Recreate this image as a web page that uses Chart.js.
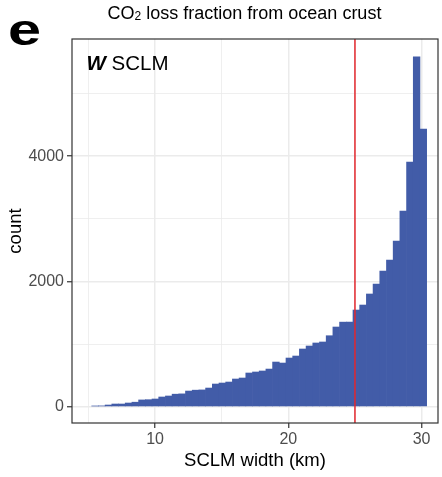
<!DOCTYPE html>
<html>
<head>
<meta charset="utf-8">
<script src="https://cdn.jsdelivr.net/npm/chart.js@4.4.1/dist/chart.umd.min.js"></script>
<style>
html,body{margin:0;padding:0;background:#ffffff;}
#wrap{position:relative;width:442px;height:477px;}
</style>
</head>
<body>
<div id="wrap"><canvas id="c" width="442" height="477"></canvas></div>
<script>
// ---- data ----
const binCenters = [5.501, 6.004, 6.506, 7.009, 7.511, 8.014, 8.517, 9.019, 9.522, 10.024,
  10.527, 11.030, 11.532, 12.035, 12.537, 13.040, 13.543, 14.045, 14.548, 15.050,
  15.553, 16.056, 16.558, 17.061, 17.563, 18.066, 18.569, 19.071, 19.574, 20.076,
  20.579, 21.082, 21.584, 22.087, 22.589, 23.092, 23.595, 24.097, 24.600, 25.102,
  25.605, 26.108, 26.610, 27.113, 27.615, 28.118, 28.621, 29.123, 29.626, 30.128];
const counts = [11, 13, 27, 43, 43, 59, 72, 108, 112, 123,
  155, 171, 200, 205, 250, 264, 268, 298, 362, 378,
  394, 442, 458, 538, 554, 570, 601, 713, 697, 777,
  809, 921, 969, 1017, 1033, 1133, 1272, 1350, 1352, 1543,
  1623, 1799, 1958, 2166, 2341, 2645, 3124, 3905, 5583, 4432];
const xGridValues = [5, 10, 15, 20, 25, 30];
const xTickLabels = [10, 20, 30];
const yGridValues = [0, 1000, 2000, 3000, 4000, 5000];
const yTickLabels = [0, 2000, 4000];
const refLineX = 25;
const titleMain = ['CO', '2', ' loss fraction from ocean crust'];
const panelTag = 'e';
const annBold = 'W';
const annText = ' SCLM';
const xTitle = 'SCLM width (km)';
const yTitle = 'count';

const FONT = '"Liberation Sans", Arial, Helvetica, sans-serif';

const decor = {
  id: 'decor',
  afterDatasetsDraw(chart) {
    const {ctx, chartArea: a, scales} = chart;
    const px = scales.x.getPixelForValue(refLineX);
    ctx.save();
    ctx.strokeStyle = '#E2272D';
    ctx.lineWidth = 1.5;
    ctx.beginPath();
    ctx.moveTo(px, a.top);
    ctx.lineTo(px, a.bottom);
    ctx.stroke();
    ctx.restore();
  },
  afterDraw(chart) {
    const {ctx, chartArea: a} = chart;
    ctx.save();
    // panel border
    ctx.strokeStyle = '#333333';
    ctx.lineWidth = 1.2;
    ctx.strokeRect(a.left, a.top, a.right - a.left, a.bottom - a.top);
    // title with subscript
    ctx.fillStyle = '#000';
    ctx.textBaseline = 'alphabetic';
    ctx.textAlign = 'left';
    const big = 'normal 18px ' + FONT;
    const small = 'normal 12px ' + FONT;
    ctx.font = big;
    const w0 = ctx.measureText(titleMain[0]).width;
    const w2 = ctx.measureText(titleMain[2]).width;
    ctx.font = small;
    const w1 = ctx.measureText(titleMain[1]).width;
    const total = w0 + w1 + w2;
    let x = 244.5 - total / 2;
    const by = 18.5;
    ctx.font = big; ctx.fillText(titleMain[0], x, by); x += w0;
    ctx.font = small; ctx.fillText(titleMain[1], x, by + 1.5); x += w1;
    ctx.font = big; ctx.fillText(titleMain[2], x, by);
    // panel tag (wide bold e)
    ctx.save();
    ctx.translate(8, 44.5);
    ctx.scale(1.35, 1);
    ctx.font = 'bold 44px ' + FONT;
    ctx.fillText(panelTag, 0, 0);
    ctx.restore();
    // annotation inside panel
    ctx.font = 'italic bold 20.5px ' + FONT;
    ctx.fillText(annBold, 86.5, 69.5);
    const wb = ctx.measureText(annBold).width;
    ctx.font = 'normal 20.5px ' + FONT;
    ctx.fillText(annText, 86.5 + wb, 69.5);
    ctx.restore();
  }
};

const isIn = (arr, v) => arr.some(t => Math.abs(t - v) < 1e-6);

new Chart(document.getElementById('c'), {
  type: 'bar',
  data: {
    datasets: [{
      data: binCenters.map((x, i) => ({x: x, y: counts[i]})),
      backgroundColor: '#425CA8',
      borderWidth: 0,
      barPercentage: 1,
      categoryPercentage: 1,
      grouped: false
    }]
  },
  options: {
    responsive: false,
    animation: false,
    devicePixelRatio: 1,
    layout: {padding: {left: 0, right: 4, top: 39, bottom: 0}},
    plugins: {legend: {display: false}, tooltip: {enabled: false}, title: {display: false}},
    scales: {
      x: {
        type: 'linear', min: 3.77, max: 31.23, offset: false,
        afterBuildTicks: s => { s.ticks = xGridValues.map(v => ({value: v})); },
        afterFit: s => { s.height = 54; },
        ticks: {
          autoSkip: false, maxRotation: 0, minRotation: 0, padding: 2,
          color: '#4D4D4D', font: {family: FONT, size: 16},
          callback: v => isIn(xTickLabels, v) ? String(v) : ''
        },
        grid: {
          offset: false,
          color: '#EBEBEB',
          lineWidth: c => (c.tick && isIn(xTickLabels, c.tick.value)) ? 1.5 : 0.8,
          tickLength: 5,
          tickColor: c => (c.tick && isIn(xTickLabels, c.tick.value)) ? '#333333' : 'rgba(0,0,0,0)',
          tickWidth: 1.2
        },
        border: {display: false},
        title: {display: true, text: xTitle, color: '#000', font: {family: FONT, size: 18.5}, padding: {top: 0, bottom: 5}}
      },
      y: {
        type: 'linear', min: -260, max: 5869,
        afterBuildTicks: s => { s.ticks = yGridValues.map(v => ({value: v})); },
        afterFit: s => { s.width = 72; },
        ticks: {
          autoSkip: false, padding: 3,
          color: '#4D4D4D', font: {family: FONT, size: 16},
          callback: v => isIn(yTickLabels, v) ? String(v) : ''
        },
        grid: {
          offset: false,
          color: '#EBEBEB',
          lineWidth: c => (c.tick && isIn(yTickLabels, c.tick.value)) ? 1.5 : 0.8,
          tickLength: 5,
          tickColor: c => (c.tick && isIn(yTickLabels, c.tick.value)) ? '#333333' : 'rgba(0,0,0,0)',
          tickWidth: 1.2
        },
        border: {display: false},
        title: {display: true, text: yTitle, color: '#000', font: {family: FONT, size: 18.5}, padding: {top: 5, bottom: 0}}
      }
    }
  },
  plugins: [decor]
});
</script>
</body>
</html>
